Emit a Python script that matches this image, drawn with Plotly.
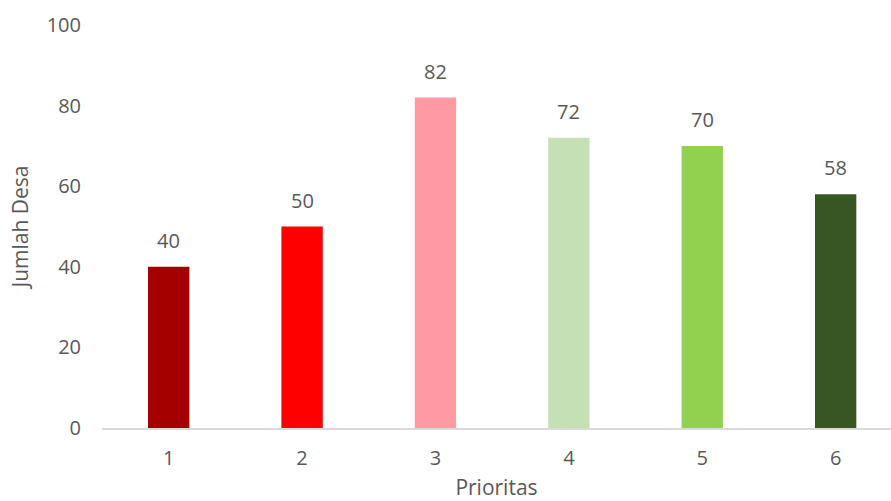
import plotly.graph_objects as go

categories = ["1", "2", "3", "4", "5", "6"]
values = [40, 50, 82, 72, 70, 58]
bar_colors = ["#A50000", "#FF0000", "#FF9AA2", "#C5E0B4", "#92D050", "#375623"]
y_ticks = [0, 20, 40, 60, 80, 100]

FONT = "Open Sans, DejaVu Sans, sans-serif"
GREY = "#595959"
TICK_SIZE = 20
TITLE_SIZE = 21

fig = go.Figure(
    go.Bar(
        x=categories,
        y=values,
        marker=dict(color=bar_colors, line=dict(width=0)),
        width=0.31,
        hoverinfo="skip",
    )
)

# value labels above each bar (category axis positions are 0..n-1)
for i, v in enumerate(values):
    fig.add_annotation(
        x=i, y=v, text=str(v), showarrow=False,
        yanchor="bottom", yshift=11,
        font=dict(family=FONT, size=TICK_SIZE, color=GREY),
    )

fig.update_layout(
    width=891, height=501,
    margin=dict(l=102, r=0, t=25, b=73),
    plot_bgcolor="white", paper_bgcolor="white",
    showlegend=False,
    font=dict(family=FONT, size=TICK_SIZE, color=GREY),
)
fig.update_xaxes(
    type="category",
    automargin=False,
    range=[-0.5, 5.415],
    showline=True, linecolor="#D9D9D9", linewidth=2,
    showgrid=False, ticks="", ticklabelstandoff=11,
    tickfont=dict(family=FONT, size=TICK_SIZE, color=GREY),
    title=dict(text="Prioritas", font=dict(family=FONT, size=TITLE_SIZE, color=GREY), standoff=30),
)
fig.update_yaxes(
    automargin=False,
    range=[0, 100],
    tickvals=y_ticks,
    showgrid=False, zeroline=False, showline=False,
    ticks="", ticklabelstandoff=20,
    tickfont=dict(family=FONT, size=TICK_SIZE, color=GREY),
    title=dict(text="Jumlah Desa", font=dict(family=FONT, size=TITLE_SIZE, color=GREY), standoff=12),
)

fig.write_html("out.html")
